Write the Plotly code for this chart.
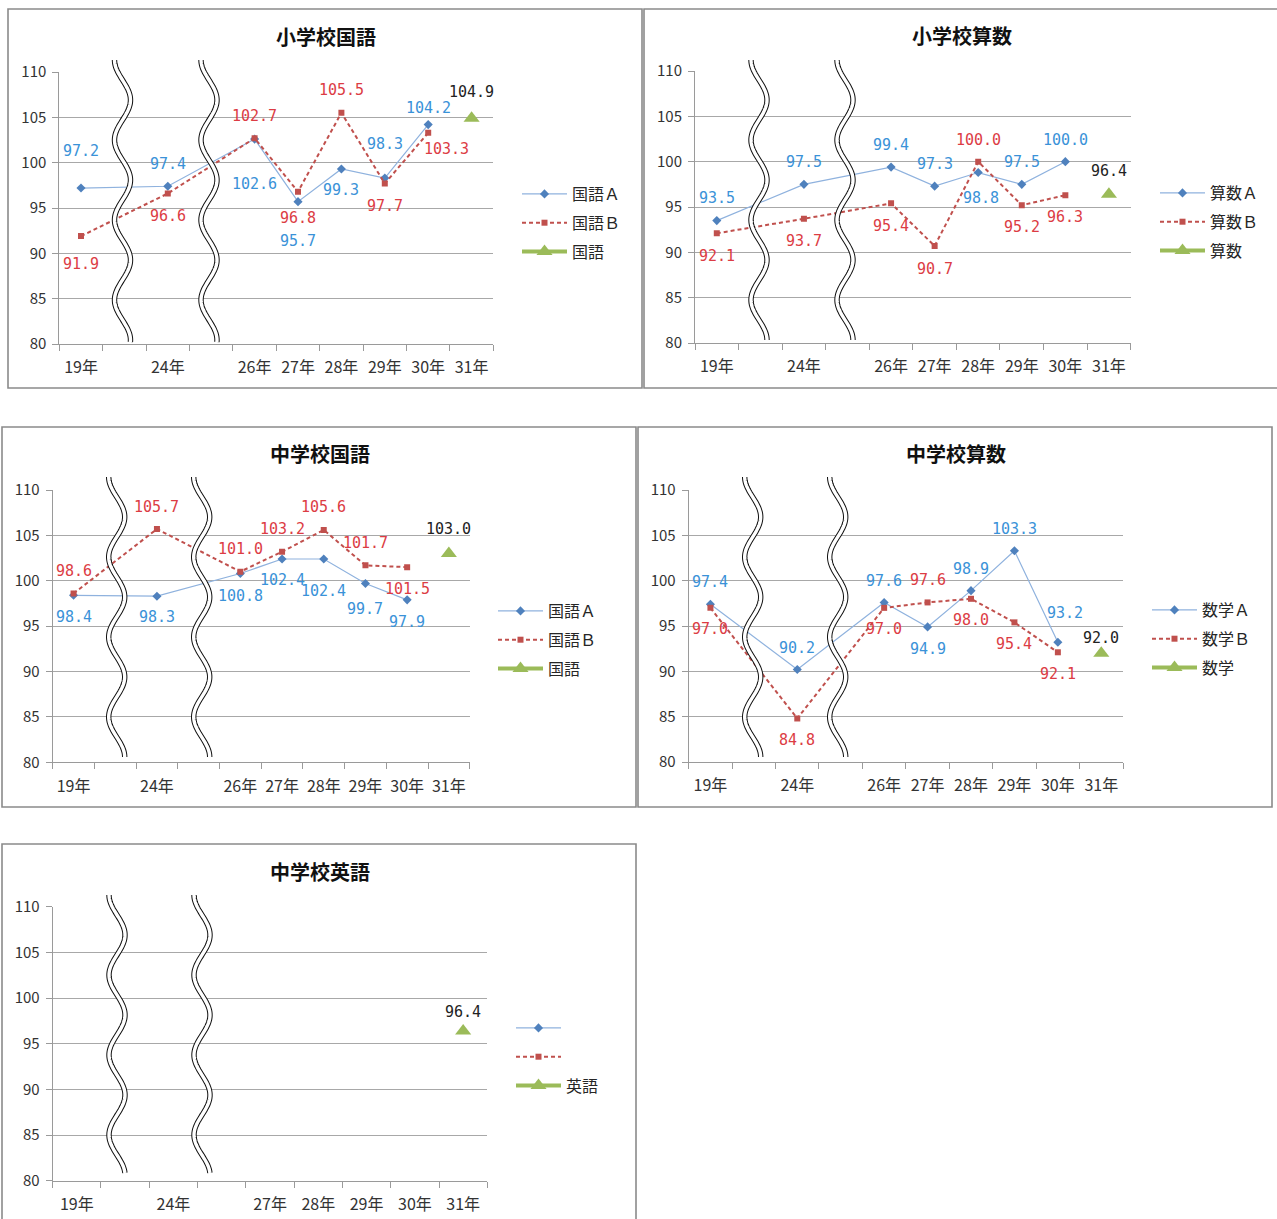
import numpy as np
import plotly.graph_objects as go

W, H = 1277, 1219

# ---------------- data ----------------
cats_main = ['19年', '', '24年', '', '26年', '27年', '28年', '29年', '30年', '31年']
cats_eng = ['19年', '', '24年', '', '27年', '28年', '29年', '30年', '31年']

sho_kokugo_a = [97.2, None, 97.4, None, 102.6, 95.7, 99.3, 98.3, 104.2, None]
sho_kokugo_b = [91.9, None, 96.6, None, 102.7, 96.8, 105.5, 97.7, 103.3, None]
sho_kokugo = [None, None, None, None, None, None, None, None, None, 104.9]

sho_sansu_a = [93.5, None, 97.5, None, 99.4, 97.3, 98.8, 97.5, 100.0, None]
sho_sansu_b = [92.1, None, 93.7, None, 95.4, 90.7, 100.0, 95.2, 96.3, None]
sho_sansu = [None, None, None, None, None, None, None, None, None, 96.4]

chu_kokugo_a = [98.4, None, 98.3, None, 100.8, 102.4, 102.4, 99.7, 97.9, None]
chu_kokugo_b = [98.6, None, 105.7, None, 101.0, 103.2, 105.6, 101.7, 101.5, None]
chu_kokugo = [None, None, None, None, None, None, None, None, None, 103.0]

chu_sugaku_a = [97.4, None, 90.2, None, 97.6, 94.9, 98.9, 103.3, 93.2, None]
chu_sugaku_b = [97.0, None, 84.8, None, 97.0, 97.6, 98.0, 95.4, 92.1, None]
chu_sugaku = [None, None, None, None, None, None, None, None, None, 92.0]

chu_eigo_a = [None, None, None, None, None, None, None, None, None]
chu_eigo_b = [None, None, None, None, None, None, None, None, None]
chu_eigo = [None, None, None, None, None, None, None, None, 96.4]

# ---------------- label offsets (px: dx right, dy down) ----------------
N = None
off_sk_a = [(0, -37), N, (0, -22), N, (0, 45), (0, 39), (0, 21), (0, -34), (0, -17), N]
off_sk_b = [(0, 28), N, (0, 23), N, (0, -22), (0, 26), (0, -23), (0, 22), (18, 16), N]
off_sk_t = [N, N, N, N, N, N, N, N, N, (0, -26)]

off_ss_a = [(0, -23), N, (0, -22), N, (0, -22), (0, -22), (3, 25), (0, -22), (0, -22), N]
off_ss_b = [(0, 23), N, (0, 22), N, (0, 23), (0, 23), (0, -22), (0, 22), (0, 22), N]
off_ss_t = [N, N, N, N, N, N, N, N, N, (0, -23)]

off_ck_a = [(0, 22), N, (0, 21), N, (0, 22), (0, 21), (0, 32), (0, 26), (0, 22), N]
off_ck_b = [(0, -22), N, (0, -22), N, (0, -23), (0, -23), (0, -23), (0, -22), (0, 22), N]
off_ck_t = [N, N, N, N, N, N, N, N, N, (0, -25)]

off_cs_a = [(0, -22), N, (0, -22), N, (0, -21), (0, 22), (0, -22), (0, -22), (7, -29), N]
off_cs_b = [(0, 21), N, (0, 22), N, (0, 21), (0, -22), (0, 21), (0, 22), (0, 22), N]
off_cs_t = [N, N, N, N, N, N, N, N, N, (0, -15)]

off_ce_a = [N] * 9
off_ce_b = [N] * 9
off_ce_t = [N, N, N, N, N, N, N, N, (0, -19)]

# ---------------- panel layout (pixels) ----------------
panels = [
    dict(title='小学校国語', cats=cats_main,
         names=['国語Ａ', '国語Ｂ', '国語'],
         series=[sho_kokugo_a, sho_kokugo_b, sho_kokugo],
         offs=[off_sk_a, off_sk_b, off_sk_t],
         box=(8, 9, 642, 388), plot=(59.3, 493.3, 72, 344),
         title_xy=(326, 36), legend_xy=(522, 191),
         waves=(122.5, 209), wave_y=(60, 342)),
    dict(title='小学校算数', cats=cats_main,
         names=['算数Ａ', '算数Ｂ', '算数'],
         series=[sho_sansu_a, sho_sansu_b, sho_sansu],
         offs=[off_ss_a, off_ss_b, off_ss_t],
         box=(644, 9, 1290, 388), plot=(695, 1130.7, 71, 343),
         title_xy=(962, 35), legend_xy=(1160, 190),
         waves=(759, 845), wave_y=(60, 340)),
    dict(title='中学校国語', cats=cats_main,
         names=['国語Ａ', '国語Ｂ', '国語'],
         series=[chu_kokugo_a, chu_kokugo_b, chu_kokugo],
         offs=[off_ck_a, off_ck_b, off_ck_t],
         box=(2, 427, 636, 807), plot=(52.7, 469.7, 490, 762.3),
         title_xy=(320, 454), legend_xy=(498, 608),
         waves=(116.7, 201.7), wave_y=(477, 757)),
    dict(title='中学校算数', cats=cats_main,
         names=['数学Ａ', '数学Ｂ', '数学'],
         series=[chu_sugaku_a, chu_sugaku_b, chu_sugaku],
         offs=[off_cs_a, off_cs_b, off_cs_t],
         box=(638, 427, 1272, 807), plot=(688.7, 1123, 490, 762),
         title_xy=(956, 454), legend_xy=(1152, 607),
         waves=(752.7, 837.7), wave_y=(477, 757)),
    dict(title='中学校英語', cats=cats_eng,
         names=['', '', '英語'],
         series=[chu_eigo_a, chu_eigo_b, chu_eigo],
         offs=[off_ce_a, off_ce_b, off_ce_t],
         box=(2, 844, 636, 1230), plot=(52.7, 487.3, 906.7, 1180.7),
         title_xy=(320, 871), legend_xy=(516, 1025),
         waves=(117, 202), wave_y=(895, 1173)),
]

# ---------------- styles ----------------
GRID = '#a8a8a8'
AXIS = '#9a9a9a'
JP = 'Noto Sans CJK JP'
MONO = 'DejaVu Sans Mono'
styles = [
    dict(line=dict(color='#8fb2de', width=1.2), marker=dict(symbol='diamond', size=7, color='#4f81bd'),
         label='#3a92d8'),
    dict(line=dict(color='#c0504d', width=2, dash='4px,3px'), marker=dict(symbol='square', size=6, color='#c0504d'),
         label='#dc3c44'),
    dict(line=dict(color='#9bbb59', width=4), marker=dict(symbol='triangle-up', size=14, color='#9bbb59'),
         label='#222222'),
]


def fx(px):
    return px / W


def fy(py):
    return 1 - py / H


fig = go.Figure()
annotations = []
shapes = []
layout = {}

for k, p in enumerate(panels, start=1):
    sfx = '' if k == 1 else str(k)
    xa, ya = 'x' + sfx, 'y' + sfx
    leg = 'legend' + sfx
    n = len(p['cats'])
    xs = list(range(n))
    l, r, t, b = p['plot']

    for j, (name, vals, offs) in enumerate(zip(p['names'], p['series'], p['offs'])):
        st = styles[j]
        fig.add_trace(go.Scatter(
            x=xs, y=vals, name=name, mode='lines+markers', connectgaps=True,
            line=st['line'], marker=st['marker'], xaxis=xa, yaxis=ya,
            legend=leg, legendgroup=f'{k}-{j}', showlegend=True, hoverinfo='skip'))
        for i, v in enumerate(vals):
            if v is None or offs[i] is None:
                continue
            dx, dy = offs[i]
            annotations.append(dict(
                x=i, y=v, xref=xa, yref=ya, text=f'{v:.1f}', showarrow=False,
                xshift=dx, yshift=-dy, xanchor='center', yanchor='middle',
                font=dict(family=MONO, size=15, color=st['label'])))

    layout['xaxis' + sfx] = dict(
        domain=[fx(l), fx(r)], anchor=ya, range=[-0.5, n - 0.5], automargin=False,
        tickmode='array', tickvals=xs, ticktext=p['cats'], ticks='',
        ticklabelstandoff=9,
        showgrid=False, zeroline=False, showline=True, linecolor=AXIS, linewidth=1,
        tickfont=dict(family=JP, size=16, color='#333333'),
        minor=dict(tickmode='array', tickvals=[i - 0.5 for i in range(n + 1)],
                   ticks='outside', ticklen=6, tickcolor=AXIS, showgrid=False),
        fixedrange=True)
    layout['yaxis' + sfx] = dict(
        domain=[fy(b), fy(t)], anchor=xa, range=[80, 110], tick0=80, dtick=5,
        automargin=False, ticklabelstandoff=3,
        showgrid=True, gridcolor=GRID, gridwidth=1, zeroline=False,
        showline=True, linecolor=AXIS, linewidth=1, ticks='outside', ticklen=6,
        tickcolor=AXIS, tickfont=dict(family=JP, size=15, color='#333333'),
        fixedrange=True)

    lx, ly = p['legend_xy']
    layout[leg] = dict(
        x=fx(lx - 5), y=fy(ly - 14), xanchor='left', yanchor='top',
        bgcolor='rgba(0,0,0,0)', borderwidth=0, traceorder='grouped',
        tracegroupgap=5, itemwidth=45, font=dict(family=JP, size=16, color='#262626'),
        itemclick=False, itemdoubleclick=False)

    # title
    tx, ty = p['title_xy']
    annotations.append(dict(
        x=fx(tx), y=fy(ty), xref='paper', yref='paper', text='<b>' + p['title'] + '</b>',
        showarrow=False, xanchor='center', yanchor='middle',
        font=dict(family=JP, size=20, color='#111111')))

    # panel frame
    bx0, by0, bx1, by1 = p['box']
    shapes.append(dict(type='rect', xref='paper', yref='paper',
                       x0=fx(bx0), x1=fx(bx1), y0=fy(by1), y1=fy(by0),
                       line=dict(color='#8a8a8a', width=1.6), layer='above'))

    # axis-break wavy marks
    wy0, wy1 = p['wave_y']
    tt = np.linspace(0, wy1 - wy0, 160)
    for cx in p['waves']:
        xx = cx + 8 * np.sin(2 * np.pi * (tt - 20) / 80)
        yy = wy0 + tt
        path = 'M ' + ' L '.join(f'{fx(a):.5f},{fy(c):.5f}' for a, c in zip(xx, yy))
        shapes.append(dict(type='path', xref='paper', yref='paper', path=path,
                           line=dict(color='#111111', width=5.4), layer='above'))
        shapes.append(dict(type='path', xref='paper', yref='paper', path=path,
                           line=dict(color='#ffffff', width=3.4), layer='above'))

fig.update_layout(
    template='none',
    width=W, height=H, autosize=False,
    margin=dict(l=0, r=0, t=0, b=0, pad=0),
    paper_bgcolor='white', plot_bgcolor='white',
    annotations=annotations, shapes=shapes,
    hovermode=False, dragmode=False,
    **layout)

fig.write_html('out.html', config={'displayModeBar': False, 'staticPlot': True})
